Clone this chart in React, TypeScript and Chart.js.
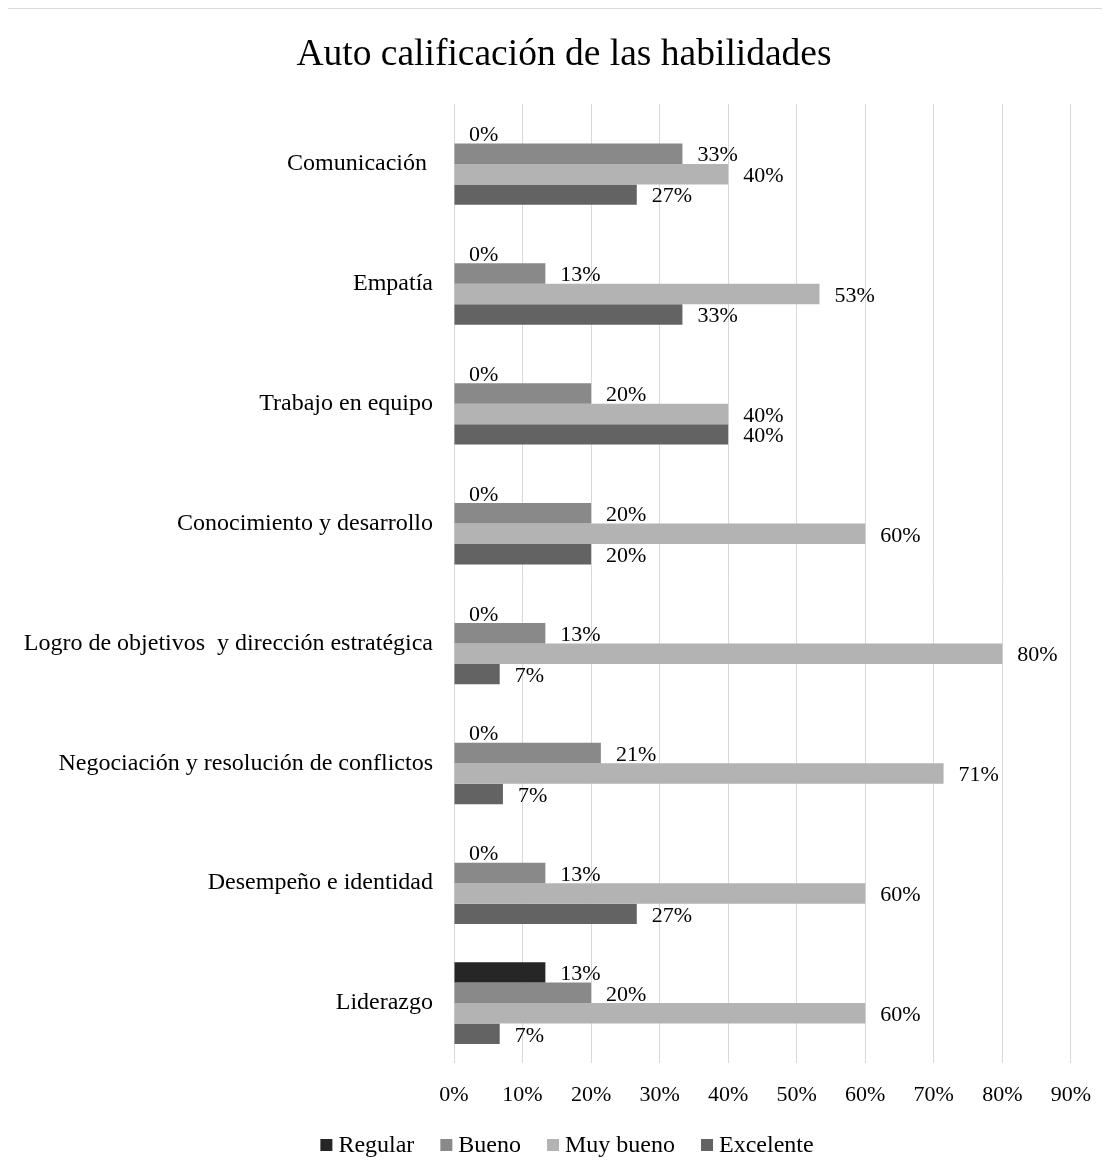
import React, { useEffect, useRef } from "react";
import { Chart, registerables } from "chart.js";

Chart.register(...registerables);

const chartTitle = "Auto calificación de las habilidades";
const categories = [
  "Comunicación ",
  "Empatía",
  "Trabajo en equipo",
  "Conocimiento y desarrollo",
  "Logro de objetivos  y dirección estratégica",
  "Negociación y resolución de conflictos",
  "Desempeño e identidad",
  "Liderazgo",
];
const seriesNames = ["Regular", "Bueno", "Muy bueno", "Excelente"];
const regular = [0, 0, 0, 0, 0, 0, 0, 13.33];
const bueno = [33.33, 13.33, 20, 20, 13.33, 21.43, 13.33, 20];
const muyBueno = [40, 53.33, 40, 60, 80, 71.43, 60, 60];
const excelente = [26.67, 33.33, 40, 20, 6.67, 7.14, 26.67, 6.67];
const seriesColors = ["#262626", "#898989", "#b3b3b3", "#636363"];
const xMin = 0;
const xMax = 90;
const xStep = 10;

const FONT = "'Liberation Serif', 'Times New Roman', serif";

const labelsPlugin = {
  id: "customDraw",
  beforeDraw(chart: any) {
    const ctx = chart.ctx;
    ctx.save();
    ctx.fillStyle = "#fff";
    ctx.fillRect(0, 0, chart.width, chart.height);
    ctx.fillStyle = "#d9d9d9";
    ctx.fillRect(0, 0, chart.width, 1);
    ctx.fillRect(0, 0, 2, chart.height);
    ctx.restore();
  },
  afterDatasetsDraw(chart: any) {
    const ctx = chart.ctx;
    ctx.save();
    ctx.font = `22px ${FONT}`;
    ctx.fillStyle = "#000";
    ctx.textAlign = "left";
    ctx.textBaseline = "middle";
    chart.data.datasets.forEach((ds: any, di: number) => {
      const meta = chart.getDatasetMeta(di);
      meta.data.forEach((el: any, i: number) => {
        const v = ds.data[i];
        ctx.fillText(Math.round(v) + "%", el.x + 15, el.y + 2);
      });
    });
    ctx.restore();
  },
  afterDraw(chart: any) {
    const ctx = chart.ctx;
    ctx.save();
    // title
    ctx.font = `37.5px ${FONT}`;
    ctx.fillStyle = "#000";
    ctx.textAlign = "center";
    ctx.textBaseline = "middle";
    ctx.fillText(chartTitle, 558, 47);
    // legend
    ctx.font = `24px ${FONT}`;
    const box = 12;
    const gapBox = 6;
    const gapItem = 26;
    const widths = seriesNames.map((n) => box + gapBox + ctx.measureText(n).width);
    const total = widths.reduce((a, b) => a + b, 0) + gapItem * (widths.length - 1);
    let x = 561 - total / 2;
    const y = 1137;
    ctx.textAlign = "left";
    seriesNames.forEach((n, i) => {
      ctx.fillStyle = seriesColors[i];
      ctx.fillRect(x, y - box / 2, box, box);
      ctx.fillStyle = "#000";
      ctx.fillText(n, x + box + gapBox, y + 1);
      x += widths[i] + gapItem;
    });
    ctx.restore();
  },
};

export default function App() {
  const ref = useRef<HTMLCanvasElement>(null);
  useEffect(() => {
    if (!ref.current) return;
    const seriesData = [regular, bueno, muyBueno, excelente];
    const chart = new Chart(ref.current, {
      type: "bar",
      data: {
        labels: categories,
        datasets: seriesNames.map((name, i) => ({
          label: name,
          data: seriesData[i],
          backgroundColor: seriesColors[i],
          borderWidth: 0,
          categoryPercentage: 0.683,
          barPercentage: 1,
        })),
      },
      options: {
        indexAxis: "y",
        responsive: false,
        animation: false,
        devicePixelRatio: 1,
        layout: { padding: { top: 96, bottom: 63, left: 0, right: 36 } },
        plugins: {
          legend: { display: false },
          title: { display: false },
          tooltip: { enabled: false },
        },
        scales: {
          x: {
            min: xMin,
            max: xMax,
            grid: { color: "#d9d9d9", lineWidth: 1, drawTicks: false },
            border: { display: false },
            ticks: {
              stepSize: xStep,
              padding: 19,
              color: "#000",
              font: { family: FONT, size: 22 },
              callback: (v: any) => v + "%",
            },
            afterFit: (s: any) => {
              s.height = 50;
            },
          },
          y: {
            grid: { display: false, drawTicks: false },
            border: { display: false },
            ticks: {
              padding: 21,
              color: "#000",
              font: { family: FONT, size: 24 },
            },
            afterFit: (s: any) => {
              s.width = 448;
            },
          },
        },
      },
      plugins: [labelsPlugin],
    });
    return () => chart.destroy();
  }, []);
  return (
    <div
      style={{
        position: "relative",
        marginLeft: -2,
        width: 1104,
        height: 1168,
        overflow: "hidden",
        background: "#fff",
      }}
    >
      <canvas ref={ref} width={1104} height={1168} style={{ display: "block", width: 1104, height: 1168 }} />
    </div>
  );
}
